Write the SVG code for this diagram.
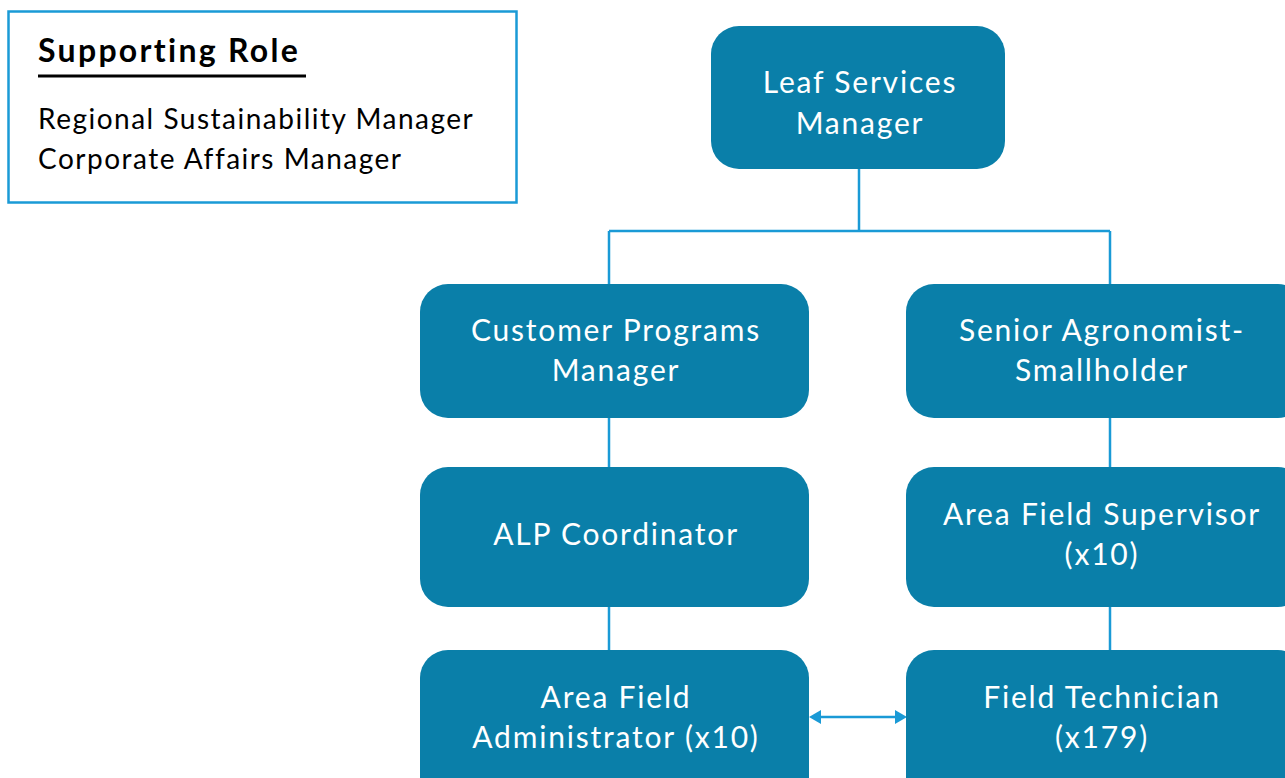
<svg xmlns="http://www.w3.org/2000/svg" width="1285" height="778" viewBox="0 0 1285 778">
<defs>
<style>
.node rect{fill:#0a7fa9;}
.node text{fill:#ffffff;font-family:Lato,"Open Sans",sans-serif;font-size:30px;letter-spacing:1.8px;text-anchor:middle;}
.conn{stroke:#1a9ad6;stroke-width:2.5;fill:none;}
.head{fill:#1a9ad6;}
.sup text{font-family:Lato,"Open Sans",sans-serif;fill:#000;}
</style>
</defs>
<rect width="1285" height="778" fill="#ffffff"/>
<g id="supporting-role" class="sup">
<rect x="8.5" y="11.5" width="508" height="191" fill="#ffffff" stroke="#1a9ad6" stroke-width="2.5"/>
<text x="38" y="62" font-size="32" font-weight="bold" letter-spacing="2.3">Supporting Role</text>
<line x1="38" y1="76" x2="306" y2="76" stroke="#000" stroke-width="3"/>
<text x="38" y="129" font-size="28" letter-spacing="1.5">Regional Sustainability Manager</text>
<text x="38" y="169" font-size="28" letter-spacing="1.5">Corporate Affairs Manager</text>
</g>
<g id="connectors">
<path class="conn" d="M859,169 V231 M609,231 H1110 M609,231 V284 M1110,231 V284"/>
<path class="conn" d="M609,418 V467 M609,607 V650 M1110,418 V467 M1110,607 V650"/>
<line class="conn" x1="816" y1="717" x2="900" y2="717"/>
<polygon class="head" points="809,717 821,710 821,724"/>
<polygon class="head" points="907,717 895,710 895,724"/>
</g>
<g id="leaf-services-manager" class="node">
<rect x="711" y="26" width="294" height="143" rx="28"/>
<text x="860" y="93">Leaf Services</text>
<text x="860" y="134">Manager</text>
</g>
<g id="customer-programs-manager" class="node">
<rect x="420" y="284" width="389" height="134" rx="28"/>
<text x="616" y="341">Customer Programs</text>
<text x="616" y="381">Manager</text>
</g>
<g id="senior-agronomist" class="node">
<rect x="906" y="284" width="400" height="134" rx="28"/>
<text x="1102" y="341">Senior Agronomist-</text>
<text x="1102" y="381">Smallholder</text>
</g>
<g id="alp-coordinator" class="node">
<rect x="420" y="467" width="389" height="140" rx="28"/>
<text x="616" y="545">ALP Coordinator</text>
</g>
<g id="area-field-supervisor" class="node">
<rect x="906" y="467" width="400" height="140" rx="28"/>
<text x="1102" y="525">Area Field Supervisor</text>
<text x="1102" y="565">(x10)</text>
</g>
<g id="area-field-administrator" class="node">
<rect x="420" y="650" width="389" height="160" rx="28"/>
<text x="616" y="708">Area Field</text>
<text x="616" y="748">Administrator (x10)</text>
</g>
<g id="field-technician" class="node">
<rect x="906" y="650" width="400" height="160" rx="28"/>
<text x="1102" y="708">Field Technician</text>
<text x="1102" y="748">(x179)</text>
</g>
</svg>
